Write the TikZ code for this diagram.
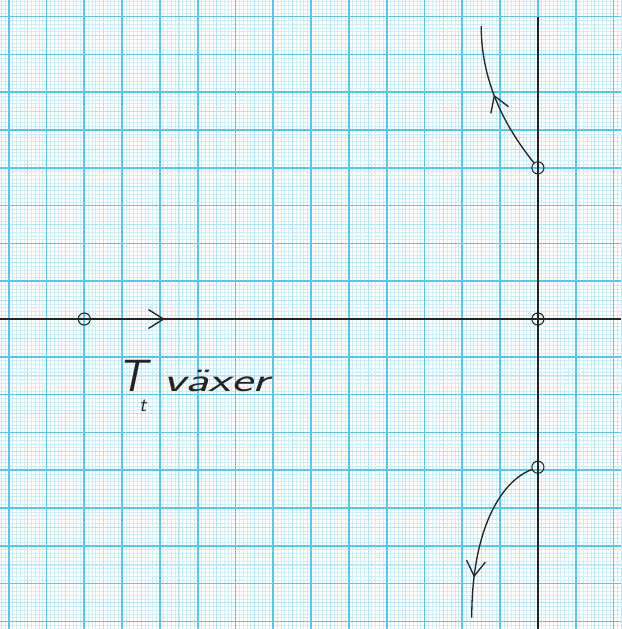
\documentclass[tikz,border=0pt]{standalone}
\usepackage{tikz}
\usetikzlibrary{arrows.meta,decorations.markings}
\definecolor{gridmajor}{RGB}{85,200,240}
\definecolor{gridmid}{RGB}{175,228,244}
\definecolor{gridminor}{RGB}{205,237,247}
\definecolor{ink}{RGB}{35,35,35}
\tikzset{
  rltip/.tip={Straight Barb[length=4mm, width=5mm, line width=1pt]},
  rl/minorgrid/.style={gridminor, line width=0.35pt},
  rl/midgrid/.style={gridmid, line width=0.45pt},
  rl/majorgrid/.style={gridmajor, line width=1.25pt},
  rl/axis/.style={ink, line width=1pt},
  rl/branch/.style={ink, line width=1pt},
  rl/root/.style={draw=ink, circle, line width=0.8pt, inner sep=0pt, minimum size=3.2mm},
  rl/midarrow/.style={postaction={decorate}, decoration={markings,
      mark=at position #1 with {\arrow{rltip}}}},
  rl/label/.style={ink, font=\fontsize{25}{28}\selectfont\sffamily\slshape, inner sep=0pt}
}
\begin{document}
\begin{tikzpicture}
  \useasboundingbox (-14.23,-8.2) rectangle (2.2,8.44);
  % millimetre paper
  \draw[rl/minorgrid] (-14.23,-8.2) grid[step=0.1] (2.2,8.44);
  \draw[rl/midgrid] (-14.23,-8.2) grid[step=0.5] (2.2,8.44);
  \draw[rl/majorgrid] (-14.23,-8.2) grid[step=1] (2.2,8.44);

  % axes
  \coordinate (hl) at (-14.23,0);
  \coordinate (hr) at (2.2,0);
  \coordinate (vt) at (0,8.0);
  \coordinate (vb) at (0,-8.2);
  \draw[rl/axis] (hl) -- (hr);
  \draw[rl/axis] (vt) -- (vb);

  % poles and zero
  \node[rl/root] (z1) at (-12,0) {};
  \node[rl/root] (p0) at (0,0) {};
  \node[rl/root] (p1) at (0,4) {};
  \node[rl/root] (p2) at (0,-3.92) {};

  % zero moves right
  \coordinate (zt) at (-9.87,0);
  \draw[rl/axis, -rltip] (z1) -- (zt);

  % branches
  \coordinate (e1) at (-1.5,7.75);
  \coordinate (e2) at (-1.75,-7.9);
  \draw[rl/branch, rl/midarrow=0.53] (p1) .. controls (-0.8,5.0) and (-1.5,6.2) .. (e1);
  \draw[rl/branch, rl/midarrow=0.76] (p2) .. controls (-1.0,-4.3) and (-1.75,-5.6) .. (e2);

  \node[rl/label] (lbl) at (-9.12,-1.78) {{\fontsize{34}{34}\selectfont T}\hspace{-0.18cm}\raisebox{-0.52cm}{\fontsize{15}{15}\selectfont t}\hspace{0.45cm}\scalebox{1.55}[1]{växer}};
\end{tikzpicture}
\end{document}
